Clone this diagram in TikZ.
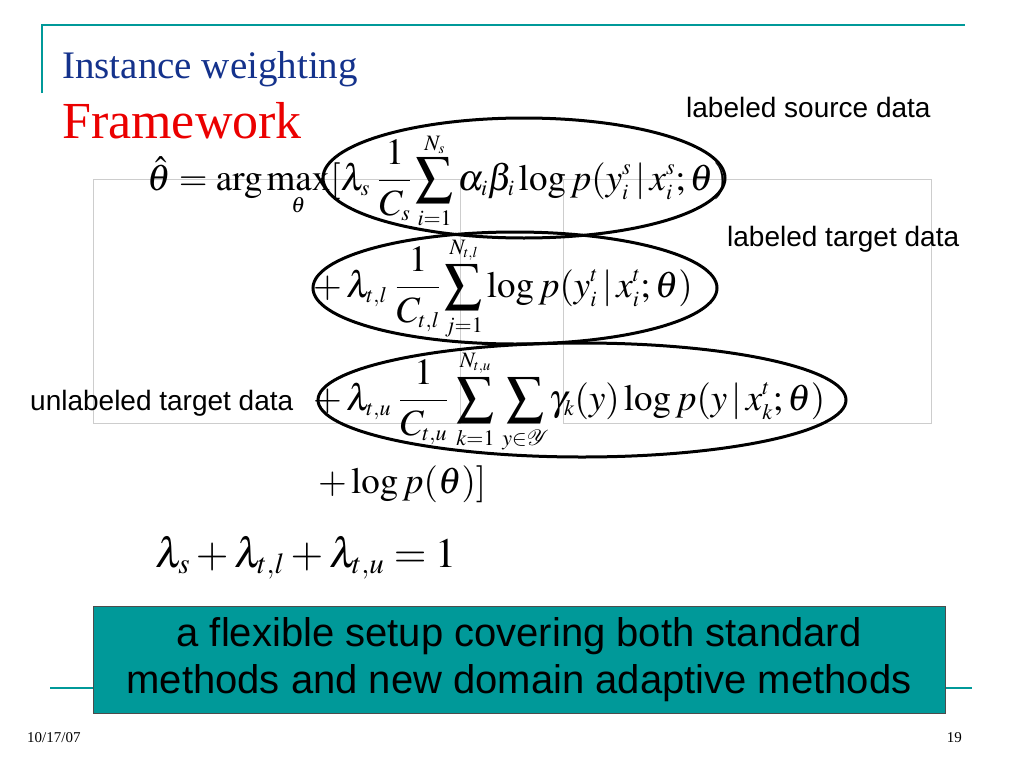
\documentclass[tikz,border=0pt]{standalone}
\usepackage{mathptmx}
\usepackage{mathtools}
\usepackage{fontspec}
\setmainfont{Liberation Serif}
\newfontfamily\arialfont{Liberation Sans}
\DeclareMathSizes{37}{37}{22}{15}
\DeclareMathSizes{42}{42}{29}{20}
\usetikzlibrary{shapes.geometric}
\definecolor{tealc}{RGB}{0,153,153}
\definecolor{titleblue}{RGB}{20,50,140}
\definecolor{titlered}{RGB}{235,0,0}
\definecolor{rectgray}{RGB}{205,205,205}
\newcommand{\vbar}{\,|\,}
\tikzset{
  eqn/.style={anchor=base west, inner sep=0pt, font=\fontsize{37}{44}\selectfont},
  bigeqn/.style={anchor=base west, inner sep=0pt, font=\fontsize{42}{50}\selectfont},
  lbl/.style={anchor=base west, inner sep=0pt, font=\arialfont\fontsize{28}{33}\selectfont},
  ring/.style={ellipse, draw=black, line width=3pt, inner sep=0pt},
  frameline/.style={draw=tealc, line width=2pt},
  ghost/.style={draw=rectgray, line width=1pt},
  footer/.style={anchor=base west, inner sep=0pt, font=\fontsize{15}{18}\selectfont},
}
\begin{document}
\begin{tikzpicture}[x=1pt,y=-1pt]
\useasboundingbox (0,0) rectangle (1024,768);
\fill[white] (0,0) rectangle (1024,768);
% frame lines
\coordinate (tl) at (42,25);
\coordinate (tr) at (965,25);
\coordinate (tb) at (42,93);
\draw[frameline] (tb) -- (tl) -- (tr);
\coordinate (bl) at (50,688);
\coordinate (br) at (972,688);
\draw[frameline] (bl) -- (br);
% faint rectangles
\draw[ghost] (93,179) rectangle (460,423);
\draw[ghost] (563,179) rectangle (931,423);
% titles
\node[anchor=base west, inner sep=0pt, text=titleblue, font=\fontsize{39}{46}\selectfont] (title) at (62,78) {Instance weighting};
\node[anchor=base west, inner sep=0pt, text=titlered, font=\fontsize{52}{60}\selectfont] (sub) at (62,138) {Framework};
% equations
\node[eqn] (l1) at (147,190) {$\displaystyle \hat{\theta}=\arg\max_{\theta}[\lambda_s\;\frac{1}{C_s}\sum_{\mathclap{i=1}}^{\mathclap{N_s}}\alpha_i\beta_i\log p(y_i^s\vbar x_i^s;\theta)$};
\node[eqn] (l2) at (313,297) {$\displaystyle +\,\lambda_{t,l}\;\frac{1}{C_{t,l}}\sum_{\mathclap{j=1}}^{\mathclap{N_{t,l}}}\log p(y_i^t\vbar x_i^t;\theta)$};
\node[eqn] (l3) at (313,410) {$\displaystyle +\,\lambda_{t,u}\;\frac{1}{C_{t,u}}\,\sum_{\mathclap{k=1}}^{\mathclap{N_{t,u}}}\;\sum_{\mathclap{y\in\mathcal{Y}}}\gamma_k(y)\log p(y\vbar x_k^t;\theta)$};
\node[eqn] (l4) at (318,493) {$+\log p(\theta)]$};
\node[bigeqn] (l5) at (155,567) {$\lambda_s+\lambda_{t,l}+\lambda_{t,u}=1$};
% labels
\node[lbl] (srcl) at (686,117) {labeled source data};
\node[lbl] (tgtl) at (727,246) {labeled target data};
\node[lbl] (unl) at (30,410) {unlabeled target data};
% ellipses
\node[ring, minimum width=402pt, minimum height=120pt] (e1) at (524,178) {};
\node[ring, minimum width=404pt, minimum height=112pt] (e2) at (515,288) {};
\node[ring, minimum width=528pt, minimum height=114pt] (e3) at (582,400) {};
% note box
\node[draw=black!70, line width=1pt, fill=tealc, minimum width=852pt, minimum height=107pt, inner sep=0pt, align=center, font=\arialfont\fontsize{40}{47}\selectfont] (note) at (519,659.5) {a flexible setup covering both standard\\methods and new domain adaptive methods};
% footer
\node[footer] (date) at (27,742) {10/17/07};
\node[footer, anchor=base east] (page) at (962,742) {19};
\end{tikzpicture}
\end{document}
